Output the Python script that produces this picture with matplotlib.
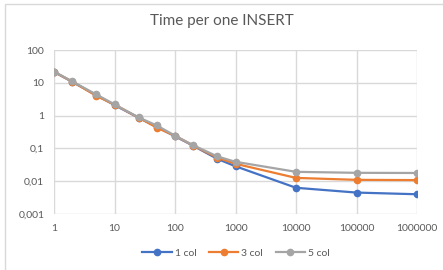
import matplotlib
matplotlib.use("Agg")
import matplotlib.pyplot as plt
from matplotlib.patches import Rectangle

# data
rows = [1, 2, 5, 10, 25, 50, 100, 200, 500, 1000, 10000, 100000, 1000000]
col1 = [21.5, 10.7, 4.2, 2.1, 0.86, 0.45, 0.235, 0.12, 0.048, 0.0285, 0.0063, 0.0045, 0.0040]
col3 = [21.5, 10.9, 4.0, 2.15, 0.87, 0.43, 0.24, 0.122, 0.052, 0.034, 0.0126, 0.011, 0.0108]
col5 = [22.0, 11.0, 4.4, 2.2, 0.88, 0.50, 0.245, 0.125, 0.057, 0.039, 0.0193, 0.018, 0.0178]
series_names = ["1 col", "3 col", "5 col"]
x_ticks = [1, 10, 100, 1000, 10000, 100000, 1000000]
x_labels = ["1", "10", "100", "1000", "10000", "100000", "1000000"]
y_ticks = [0.001, 0.01, 0.1, 1, 10, 100]
y_labels = ["0,001", "0,01", "0,1", "1", "10", "100"]

colors = ["#4472C4", "#ED7D31", "#A5A5A5"]
txt = "#595959"
grid = "#D9D9D9"

plt.rcParams["font.family"] = ["Lato", "DejaVu Sans"]

fig = plt.figure(figsize=(4.43, 2.70), dpi=100)
ax = fig.add_axes([54 / 443, 1 - 214 / 270, (417 - 54) / 443, (214 - 50) / 270])

for ys, c, name in zip([col1, col3, col5], colors, series_names):
    ax.plot(rows, ys, color=c, lw=1.6, marker="o", ms=4.5, label=name)

ax.set_xscale("log")
ax.set_yscale("log")
ax.set_xlim(1, 1000000)
ax.set_ylim(0.001, 100)
ax.set_xticks(x_ticks)
ax.set_xticklabels(x_labels)
ax.set_yticks(y_ticks)
ax.set_yticklabels(y_labels)
ax.minorticks_off()
ax.tick_params(length=0, labelsize=7.5, colors=txt, pad=7)
ax.grid(True, color=grid, lw=1)
ax.set_axisbelow(True)
for s in ax.spines.values():
    s.set_visible(False)

fig.text(0.5, 1 - 21 / 270, "Time per one INSERT", ha="center", va="center",
         fontsize=11, color=txt)

leg = fig.legend(loc="center", bbox_to_anchor=(236 / 443, 1 - 253 / 270), ncol=3,
                 frameon=False, fontsize=7.5, handlelength=2.8, columnspacing=1.2,
                 handletextpad=0.3)
for t in leg.get_texts():
    t.set_color(txt)

# chart area border
fig.patches.append(Rectangle((5 / 443, -0.05), 1.1, 1 - 4 / 270 + 0.05,
                             transform=fig.transFigure, fill=False,
                             edgecolor=grid, lw=1))

fig.savefig("out.png", dpi=100)
